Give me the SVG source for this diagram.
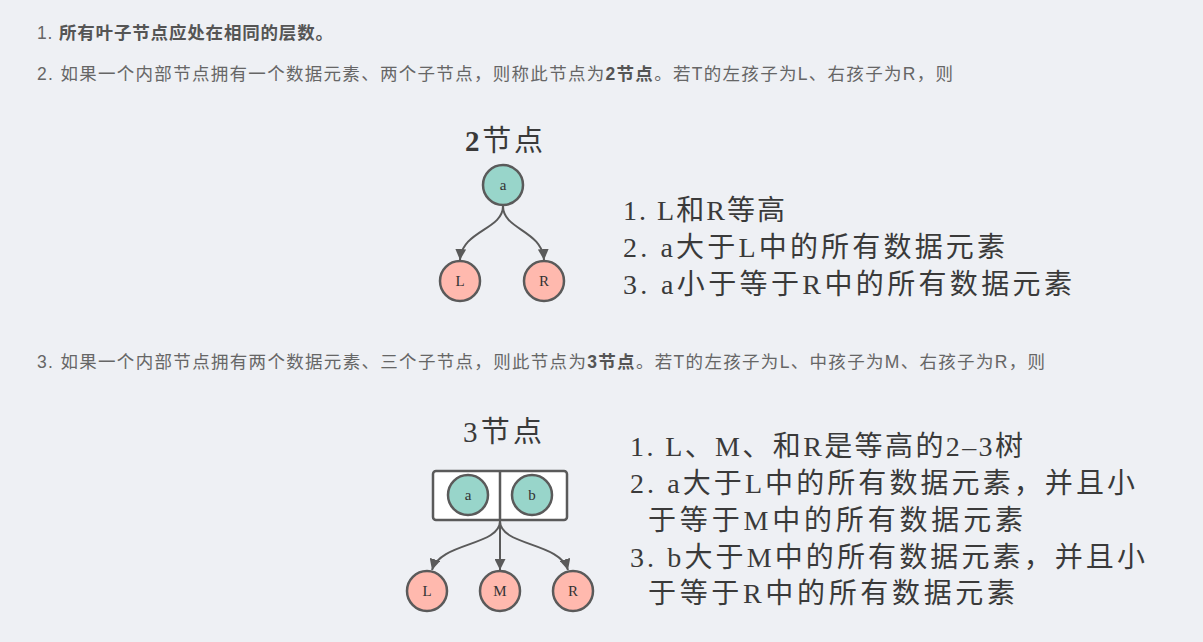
<svg xmlns="http://www.w3.org/2000/svg" width="1203" height="642" viewBox="0 0 1203 642">
<style>
.page{font-family:"Liberation Sans","Noto Sans CJK SC",sans-serif;font-size:17.5px;fill:#666}
.b{font-weight:bold;fill:#555}
.big{font-family:"Liberation Serif","Noto Sans CJK SC",serif;font-size:28px;fill:#3a3a3a}
.ttl{font-family:"Liberation Serif","Noto Sans CJK SC",serif;font-size:29px;fill:#3a3a3a}
.lbl{font-family:"Liberation Serif","Noto Sans CJK SC",serif;font-size:15px;fill:#333;text-anchor:middle;dominant-baseline:central}
.key{fill:#98d5ca;stroke:#5a5a5a;stroke-width:2.5}
.kid{fill:#ffb9ae;stroke:#5a5a5a;stroke-width:2.5}
.box{fill:#fff;stroke:#5a5a5a;stroke-width:2.5}
.edge{fill:none;stroke:#5a5a5a;stroke-width:2}
</style>
<defs>
<marker id="arr" markerUnits="userSpaceOnUse" markerWidth="12" markerHeight="11" refX="11" refY="5.5" orient="auto">
<path d="M0,0 L11,5.5 L0,11 z" fill="#5a5a5a"/>
</marker>
</defs>
<rect width="1203" height="642" fill="#eef0f4"/>

<g id="page-text">
<text class="page" x="37" y="39" textLength="296" lengthAdjust="spacing">1. <tspan class="b">所有叶子节点应处在相同的层数。</tspan></text>
<text class="page" x="37" y="80" textLength="916" lengthAdjust="spacing">2. 如果一个内部节点拥有一个数据元素、两个子节点，则称此节点为<tspan class="b">2节点</tspan>。若T的左孩子为L、右孩子为R，则</text>
<text class="page" x="37" y="368" textLength="1008" lengthAdjust="spacing">3. 如果一个内部节点拥有两个数据元素、三个子节点，则此节点为<tspan class="b">3节点</tspan>。若T的左孩子为L、中孩子为M、右孩子为R，则</text>
</g>

<g id="title-2node">
<text class="ttl" x="465" y="151" textLength="78" lengthAdjust="spacing"><tspan font-weight="bold">2</tspan>节点</text>
</g>
<g id="title-3node">
<text class="ttl" x="463" y="442" textLength="79" lengthAdjust="spacing">3节点</text>
</g>

<g id="connectors">
<path class="edge" d="M503,206 C503,230 462,230 460,260" marker-end="url(#arr)"/>
<path class="edge" d="M503,206 C503,230 542,230 544,260" marker-end="url(#arr)"/>
<path class="edge" d="M500,521 C500,546 440,542 432,570" marker-end="url(#arr)"/>
<path class="edge" d="M500,521 L500,570" marker-end="url(#arr)"/>
<path class="edge" d="M500,521 C500,546 560,542 568,570" marker-end="url(#arr)"/>
</g>

<g id="node-a2">
<circle class="key" cx="503" cy="185" r="20"/>
<text class="lbl" x="503" y="185">a</text>
</g>
<g id="node-L2">
<circle class="kid" cx="460" cy="281" r="20"/>
<text class="lbl" x="460" y="281">L</text>
</g>
<g id="node-R2">
<circle class="kid" cx="544" cy="281" r="20"/>
<text class="lbl" x="544" y="281">R</text>
</g>

<g id="node-ab3">
<rect class="box" x="433" y="471" width="134" height="49" rx="3"/>
<line x1="500" y1="471" x2="500" y2="520" stroke="#5a5a5a" stroke-width="2.5"/>
<circle class="key" cx="468" cy="495" r="20"/>
<text class="lbl" x="468" y="495">a</text>
<circle class="key" cx="532" cy="495" r="20"/>
<text class="lbl" x="532" y="495">b</text>
</g>
<g id="node-L3">
<circle class="kid" cx="427" cy="591" r="20"/>
<text class="lbl" x="427" y="591">L</text>
</g>
<g id="node-M3">
<circle class="kid" cx="500" cy="591" r="20"/>
<text class="lbl" x="500" y="591">M</text>
</g>
<g id="node-R3">
<circle class="kid" cx="573" cy="591" r="20"/>
<text class="lbl" x="573" y="591">R</text>
</g>

<g id="rules-2node">
<text class="big" x="623" y="220" textLength="162" lengthAdjust="spacing">1. L和R等高</text>
<text class="big" x="623" y="257" textLength="382" lengthAdjust="spacing">2. a大于L中的所有数据元素</text>
<text class="big" x="623" y="294" textLength="449" lengthAdjust="spacing">3. a小于等于R中的所有数据元素</text>
</g>

<g id="rules-3node">
<text class="big" x="630" y="456" textLength="393" lengthAdjust="spacing">1. L、M、和R是等高的2–3树</text>
<text class="big" x="630" y="493" textLength="505" lengthAdjust="spacing">2. a大于L中的所有数据元素，并且小</text>
<text class="big" x="648" y="530" textLength="375" lengthAdjust="spacing">于等于M中的所有数据元素</text>
<text class="big" x="630" y="567" textLength="515" lengthAdjust="spacing">3. b大于M中的所有数据元素，并且小</text>
<text class="big" x="648" y="603" textLength="367" lengthAdjust="spacing">于等于R中的所有数据元素</text>
</g>
</svg>
